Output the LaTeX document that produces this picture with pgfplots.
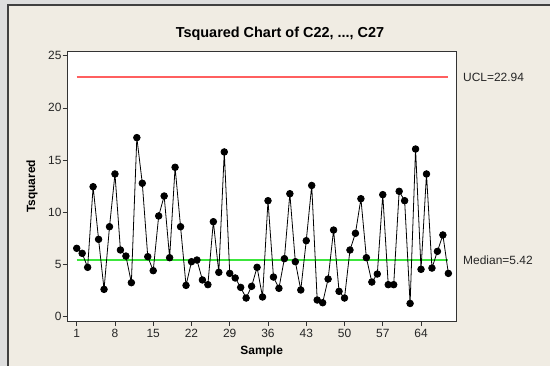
\documentclass[border=0pt]{standalone}
\usepackage{pgfplots}
\pgfplotsset{compat=1.18}
\usepackage{fontspec}
\setmainfont{Liberation Sans}
\definecolor{panelbg}{RGB}{240,236,227}
\definecolor{outerbg}{RGB}{222,222,222}
\definecolor{uclred}{RGB}{255,95,95}
\definecolor{medgreen}{RGB}{60,230,60}
\begin{document}
\begin{tikzpicture}
% backgrounds (image coords: x_img-67.7, 321-y_img)
\fill[outerbg] (-67.7bp,-45bp) rectangle (482.3bp,321bp);
\fill[panelbg] (-59.7bp,-45bp) rectangle (482.3bp,316bp);
\draw[black!75, line width=1.2bp] (-59.7bp,-45bp) -- (-59.7bp,316bp) -- (482.3bp,316bp);
\begin{axis}[
  at={(0,0)}, anchor=south west, scale only axis,
  width=388.3bp, height=269.3bp,
  xmin=-0.65, xmax=70.4, ymin=-0.41, ymax=25.38,
  xtick={1,8,15,22,29,36,43,50,57,64},
  ytick={0,5,10,15,20,25},
  tick align=outside, xtick pos=bottom, ytick pos=left,
  major tick length=5bp,
  tick style={black!80, line width=0.7bp},
  axis line style={black!80, line width=0.9bp},
  axis background/.style={fill=white},
  ticklabel style={font=\fontsize{12}{14}\selectfont, text=black!85},
  yticklabel style={inner xsep=1bp},
  /pgf/number format/assume math mode=true,
  clip=false,
]
\addplot[uclred, line width=1.4bp, no marks] coordinates {(1,22.94) (69,22.94)};
\addplot[medgreen, line width=1.4bp, no marks] coordinates {(1,5.42) (69,5.42)};
\addplot[black, line width=0.8bp, mark=*, mark size=3.3bp, mark options={fill=black}] table {
x y
1 6.55
2 6.07
3 4.73
4 12.45
5 7.41
6 2.62
7 8.62
8 13.67
9 6.39
10 5.81
11 3.26
12 17.15
13 12.78
14 5.75
15 4.41
16 9.65
17 11.56
18 5.65
19 14.31
20 8.62
21 3.00
22 5.27
23 5.43
24 3.52
25 3.07
26 9.10
27 4.25
28 15.78
29 4.15
30 3.71
31 2.81
32 1.79
33 2.91
34 4.73
35 1.89
36 11.11
37 3.80
38 2.72
39 5.56
40 11.78
41 5.27
42 2.56
43 7.28
44 12.57
45 1.60
46 1.34
47 3.61
48 8.30
49 2.43
50 1.79
51 6.39
52 7.99
53 11.30
54 5.65
55 3.32
56 4.09
57 11.69
58 3.07
59 3.07
60 12.01
61 11.11
62 1.27
63 16.06
64 4.54
65 13.67
66 4.66
67 6.26
68 7.83
69 4.15
};
\node[anchor=west, inner sep=0pt, font=\fontsize{12}{14}\selectfont, text=black!85] at (axis cs:70.4,22.94) [xshift=7bp] {UCL=22.94};
\node[anchor=west, inner sep=0pt, font=\fontsize{12}{14}\selectfont, text=black!85] at (axis cs:70.4,5.42) [xshift=7bp] {Median=5.42};
\end{axis}
\node[anchor=base, inner sep=0pt, font=\bfseries\fontsize{14.5}{16}\selectfont] at (212.3bp,283bp) {Tsquared Chart of C22, ..., C27};
\node[rotate=90, inner sep=0pt, font=\bfseries\fontsize{12}{14}\selectfont] at (-35.7bp,134.6bp) {Tsquared};
\node[inner sep=0pt, font=\bfseries\fontsize{12}{14}\selectfont] at (194bp,-30bp) {Sample};
\pgfresetboundingbox
\useasboundingbox (-67.7bp,-45bp) rectangle (482.3bp,321bp);
\end{tikzpicture}
\end{document}
